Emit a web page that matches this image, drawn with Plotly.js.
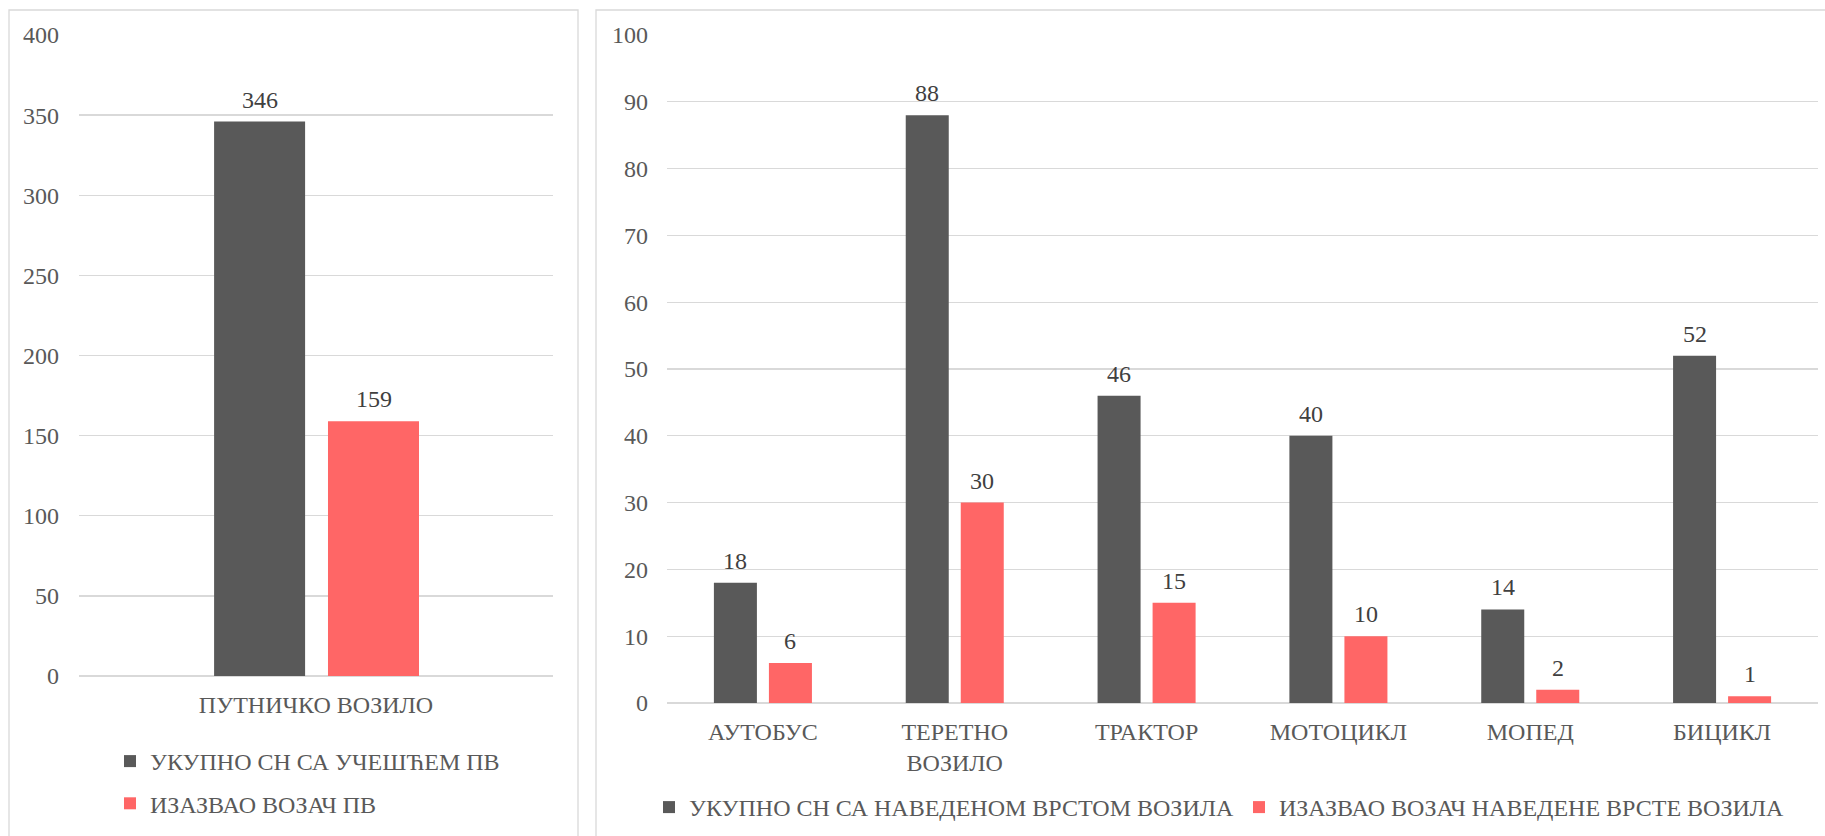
<!DOCTYPE html>
<html>
<head>
<meta charset="utf-8">
<script src="https://cdn.plot.ly/plotly-3.0.1.min.js"></script>
<style>
  html, body { margin: 0; padding: 0; background: #ffffff; }
  #chart { width: 1825px; height: 836px; }
</style>
</head>
<body>
<div id="chart"></div>
<script>
// ---- data ----
const leftCategories = ["ПУТНИЧКО ВОЗИЛО"];
const leftTotal = [346];
const leftCaused = [159];
const leftNames = ["УКУПНО СН СА УЧЕШЋЕМ ПВ", "ИЗАЗВАО ВОЗАЧ ПВ"];

const rightCategories = ["АУТОБУС", "ТЕРЕТНО<br>ВОЗИЛО", "ТРАКТОР", "МОТОЦИКЛ", "МОПЕД", "БИЦИКЛ"];
const rightTotal = [18, 88, 46, 40, 14, 52];
const rightCaused = [6, 30, 15, 10, 2, 1];
const rightNames = ["УКУПНО СН СА НАВЕДЕНОМ ВРСТОМ ВОЗИЛА", "ИЗАЗВАО ВОЗАЧ НАВЕДЕНЕ ВРСТЕ ВОЗИЛА"];

const leftTicks = [0, 50, 100, 150, 200, 250, 300, 350, 400];
const rightTicks = [0, 10, 20, 30, 40, 50, 60, 70, 80, 90, 100];

// ---- styling ----
const W = 1825, H = 836;
const DARK = "#595959", RED = "#FF6666", GRID = "#d9d9d9";
const FONT = "Liberation Serif";
const px = v => v / W;
const py = v => 1 - v / H;

// bar placement inside each category (axis units)
const L_OFF = [-0.215, 0.0253], L_W = 0.192;
const R_OFF = [-0.2555, 0.0313], R_W = 0.2242;

function barTrace(x, y, name, color, xa, ya, legend, group, offset, width) {
  return {
    type: "bar", x: x, y: y, name: name,
    marker: { color: color },
    xaxis: xa, yaxis: ya, legend: legend, legendgroup: group,
    offset: offset, width: width,
    cliponaxis: false, hoverinfo: "x+y+name"
  };
}

// value labels placed at each bar top through the axes (category serial index + bar centre)
function valueLabels(vals, offset, width, xa, ya) {
  return vals.map((v, i) => ({
    xref: xa, yref: ya, x: i + offset + width / 2, y: v,
    text: String(v), showarrow: false, xanchor: "center", yanchor: "bottom", yshift: 7,
    font: { family: FONT, size: 24, color: "#404040" }
  }));
}

const data = [
  barTrace(leftCategories, leftTotal, leftNames[0], DARK, "x", "y", "legend", "la", L_OFF[0], L_W),
  barTrace(leftCategories, leftCaused, leftNames[1], RED, "x", "y", "legend", "lb", L_OFF[1], L_W),
  barTrace(rightCategories, rightTotal, rightNames[0], DARK, "x2", "y2", "legend2", "ra", R_OFF[0], R_W),
  barTrace(rightCategories, rightCaused, rightNames[1], RED, "x2", "y2", "legend2", "rb", R_OFF[1], R_W)
];

const annotations = [].concat(
  valueLabels(leftTotal, L_OFF[0], L_W, "x", "y"),
  valueLabels(leftCaused, L_OFF[1], L_W, "x", "y"),
  valueLabels(rightTotal, R_OFF[0], R_W, "x2", "y2"),
  valueLabels(rightCaused, R_OFF[1], R_W, "x2", "y2")
);

const axFont = { family: FONT, size: 24, color: "#595959" };

const layout = {
  width: W, height: H,
  margin: { l: 0, r: 0, t: 0, b: 0 },
  paper_bgcolor: "#ffffff", plot_bgcolor: "rgba(0,0,0,0)",
  font: { family: FONT, size: 24, color: "#595959" },
  barmode: "group",
  showlegend: true,
  annotations: annotations,
  xaxis: {
    domain: [px(79), px(553)], anchor: "y",
    tickfont: axFont, showgrid: false, showline: false, zeroline: false,
    ticks: "", ticklabelstandoff: 12, fixedrange: true
  },
  yaxis: {
    domain: [py(676), py(35)], anchor: "x",
    range: [0, 400], tickvals: leftTicks, ticktext: leftTicks.map(String),
    tickfont: axFont, showgrid: true, gridcolor: GRID, gridwidth: 1.3,
    zeroline: true, zerolinecolor: GRID, zerolinewidth: 1.3,
    showline: false, ticks: "", ticklabelstandoff: 19, fixedrange: true
  },
  xaxis2: {
    domain: [px(667), px(1818)], anchor: "y2",
    tickfont: axFont, showgrid: false, showline: false, zeroline: false,
    ticks: "", ticklabelstandoff: 12, fixedrange: true
  },
  yaxis2: {
    domain: [py(703), py(35)], anchor: "x2",
    range: [0, 100], tickvals: rightTicks, ticktext: rightTicks.map(String),
    tickfont: axFont, showgrid: true, gridcolor: GRID, gridwidth: 1.3,
    zeroline: true, zerolinecolor: GRID, zerolinewidth: 1.3,
    showline: false, ticks: "", ticklabelstandoff: 18, fixedrange: true
  },
  legend: {
    x: px(110), y: py(739), xanchor: "left", yanchor: "top",
    orientation: "v", font: { family: FONT, size: 24, color: "#595959" },
    bgcolor: "rgba(0,0,0,0)", traceorder: "grouped", tracegroupgap: 8
  },
  legend2: {
    x: px(649), y: py(785), xanchor: "left", yanchor: "top",
    orientation: "h", font: { family: FONT, size: 24, color: "#595959" },
    bgcolor: "rgba(0,0,0,0)", traceorder: "normal"
  },
  shapes: [
    { type: "rect", xref: "paper", yref: "paper", x0: px(9), x1: px(578), y0: -0.05, y1: py(10),
      line: { color: GRID, width: 1.3 }, fillcolor: "rgba(0,0,0,0)", layer: "below" },
    { type: "rect", xref: "paper", yref: "paper", x0: px(596), x1: 1.05, y0: -0.05, y1: py(10),
      line: { color: GRID, width: 1.3 }, fillcolor: "rgba(0,0,0,0)", layer: "below" }
  ]
};

Plotly.newPlot("chart", data, layout, { staticPlot: true, displayModeBar: false });
</script>
</body>
</html>
